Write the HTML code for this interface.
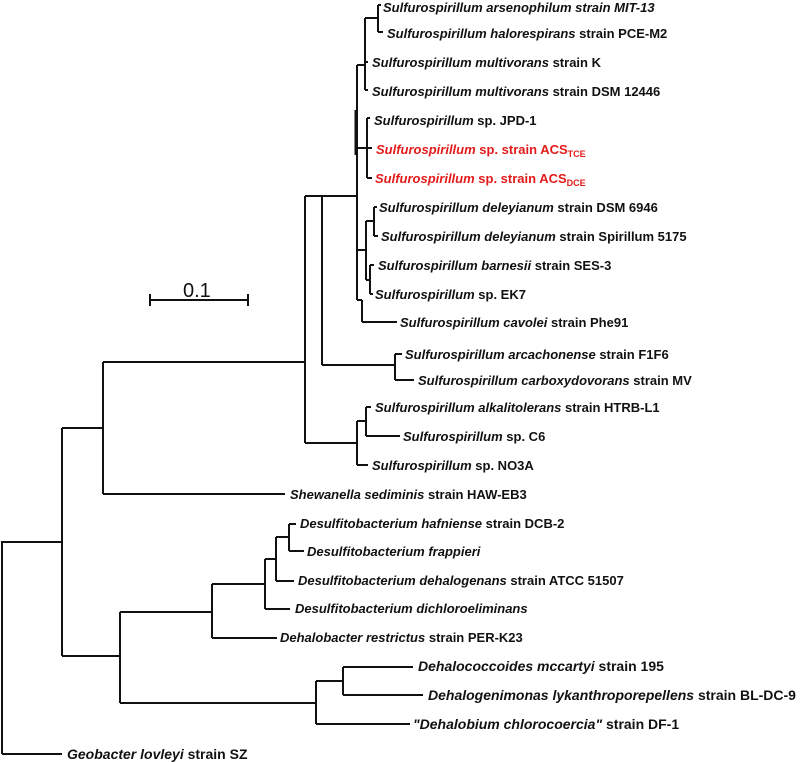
<!DOCTYPE html>
<html><head><style>
html,body{margin:0;padding:0;background:#fff;}
svg{display:block;}
text{font-family:"Liberation Sans",Arial,sans-serif;font-size:13px;font-weight:bold;fill:#111;}
.b{font-size:14px;}
.r{fill:#e31b1b;}
</style></head><body>
<svg width="800" height="762" viewBox="0 0 800 762" xmlns="http://www.w3.org/2000/svg">
<g stroke="#111" stroke-width="2" fill="none">
<path d="M2,754 V542 H62 M2,754 H62"/>
<path d="M62,428 V656 M62,428 H103 M62,656 H120"/>
<path d="M103,362 V494 M103,362 H305 M103,494 H285"/>
<path d="M305,196 V443 M305,196 H322 M305,443 H357"/>
<path d="M357,421 V465 M357,421 H366 M357,465 H368 M366,407 V436 M366,407 H371 M366,436 H400"/>
<path d="M322,196 V365 M322,196 H357 M322,365 H395 M395,354 V380 M395,354 H402 M395,380 H414"/>
<path d="M357,65 V300 M365,18 V90 M357,65 H365 M365,18 H378 M378,5 V32 M378,5 H381 M378,32 H383 M365,90 H368 M365,62 H368"/>
<path d="M357,148 H367 M367,118 V178 M367,118 H370 M367,148 H372 M367,178 H372"/>
<path d="M357,250 H366 M366,221 V280 M366,221 H374 M374,207 V236 M374,207 H377 M374,236 H378 M366,280 H370 M370,265 V294 M370,265 H374 M370,294 H373"/>
<path d="M357,300 H362 M362,300 V322 M362,322 H397"/>
<path d="M356,110 V155" stroke-width="3"/>
<path d="M120,612 V703 M120,612 H212 M212,584 V638 M212,638 H277 M212,584 H265 M265,559 V609 M265,609 H290 M265,559 H276 M276,537 V581 M276,581 H294 M276,537 H289 M289,524 V551 M289,524 H296 M289,551 H304"/>
<path d="M120,703 H316 M316,681 V724 M316,724 H410 M316,681 H343 M343,667 V695 M343,667 H413 M343,695 H423"/>
<path d="M150,300 H248 M150,294 V306 M248,294 V306"/>
</g>
<text x="183" y="297" style="font-size:20px;font-weight:normal">0.1</text>
<text x="383" y="12"><tspan font-style="italic">Sulfurospirillum arsenophilum strain MIT-13</tspan></text>
<text x="387" y="38"><tspan font-style="italic">Sulfurospirillum halorespirans</tspan> strain PCE-M2</text>
<text x="372" y="67"><tspan font-style="italic">Sulfurospirillum multivorans</tspan> strain K</text>
<text x="372" y="96"><tspan font-style="italic">Sulfurospirillum multivorans</tspan> strain DSM 12446</text>
<text x="374" y="125"><tspan font-style="italic">Sulfurospirillum</tspan> sp. JPD-1</text>
<text class="r" x="376" y="154"><tspan font-style="italic">Sulfurospirillum</tspan> sp.  strain ACS<tspan font-size="9" dy="3">TCE</tspan></text>
<text class="r" x="375" y="183"><tspan font-style="italic">Sulfurospirillum</tspan> sp. strain ACS<tspan font-size="9" dy="3">DCE</tspan></text>
<text x="379" y="212"><tspan font-style="italic">Sulfurospirillum deleyianum</tspan> strain DSM 6946</text>
<text x="381" y="241"><tspan font-style="italic">Sulfurospirillum deleyianum</tspan> strain Spirillum 5175</text>
<text x="378" y="270"><tspan font-style="italic">Sulfurospirillum barnesii</tspan> strain SES-3</text>
<text x="375" y="299"><tspan font-style="italic">Sulfurospirillum</tspan> sp. EK7</text>
<text x="400" y="327"><tspan font-style="italic">Sulfurospirillum cavolei</tspan> strain Phe91</text>
<text x="405" y="359"><tspan font-style="italic">Sulfurospirillum arcachonense</tspan> strain F1F6</text>
<text x="418" y="385"><tspan font-style="italic">Sulfurospirillum carboxydovorans</tspan> strain MV</text>
<text x="375" y="412"><tspan font-style="italic">Sulfurospirillum alkalitolerans</tspan> strain HTRB-L1</text>
<text x="403" y="441"><tspan font-style="italic">Sulfurospirillum</tspan> sp. C6</text>
<text x="372" y="470"><tspan font-style="italic">Sulfurospirillum</tspan> sp. NO3A</text>
<text x="290" y="499"><tspan font-style="italic">Shewanella sediminis</tspan> strain HAW-EB3</text>
<text x="300" y="528"><tspan font-style="italic">Desulfitobacterium hafniense</tspan> strain DCB-2</text>
<text x="307" y="556"><tspan font-style="italic">Desulfitobacterium frappieri</tspan></text>
<text x="298" y="585"><tspan font-style="italic">Desulfitobacterium dehalogenans</tspan> strain ATCC 51507</text>
<text x="295" y="613"><tspan font-style="italic">Desulfitobacterium dichloroeliminans</tspan></text>
<text x="280" y="642"><tspan font-style="italic">Dehalobacter restrictus</tspan> strain PER-K23</text>
<text class="b" x="418" y="671"><tspan font-style="italic">Dehalococcoides mccartyi</tspan> strain 195</text>
<text class="b" x="428" y="700"><tspan font-style="italic">Dehalogenimonas lykanthroporepellens</tspan> strain BL-DC-9</text>
<text class="b" x="413" y="729"><tspan font-style="italic">"Dehalobium chlorocoercia"</tspan> strain DF-1</text>
<text class="b" x="67" y="759"><tspan font-style="italic">Geobacter lovleyi</tspan> strain SZ</text>
</svg>
</body></html>
